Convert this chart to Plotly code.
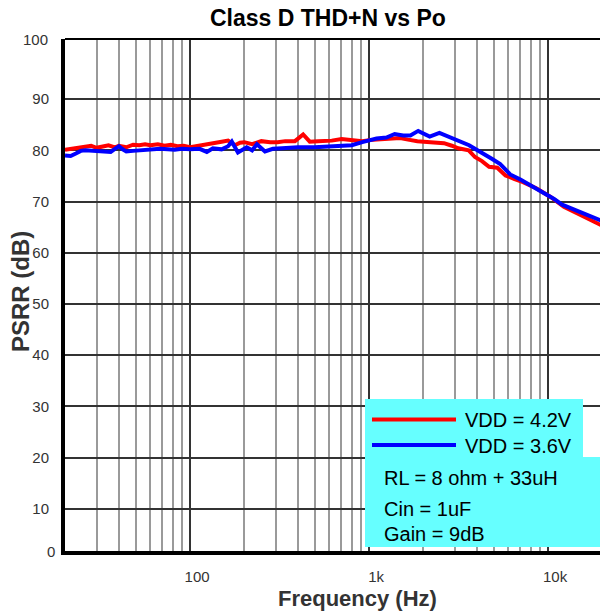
import math
import plotly.graph_objects as go

# ---- data ----
freq_42 = [20, 22, 24, 26, 28, 30, 32, 35, 38, 40, 44, 48, 52, 56, 60, 66, 72, 78, 85, 92,
           100, 110, 122, 135, 150, 163, 178, 190, 201, 222, 250, 280, 308, 340, 385, 428,
           466, 520, 618, 702, 800, 916, 1000, 1090, 1250, 1490, 1650, 1860, 2200, 2620,
           2900, 3150, 3600, 3900, 4270, 4680, 5200, 5780, 6500, 7240, 8580, 10320, 12240,
           14000, 15920, 18000, 20000]
psrr_42 = [80.1, 80.3, 80.4, 80.6, 80.9, 80.5, 80.7, 81.0, 80.6, 80.9, 80.6, 81.1, 81.0, 81.2,
           81.0, 81.2, 80.9, 81.1, 80.8, 80.9, 80.6, 80.9, 81.1, 81.4, 81.7, 81.9, 81.0, 81.5,
           81.6, 81.2, 81.8, 81.6, 81.6, 81.8, 81.8, 83.1, 81.7, 81.8, 81.9, 82.2, 82.0, 81.8,
           82.0, 82.1, 82.3, 82.4, 82.1, 81.8, 81.6, 81.4, 80.9, 80.4, 80.0, 78.7, 77.9, 76.8,
           76.6, 75.1, 74.4, 73.8, 72.6, 70.9, 69.0, 68.0, 67.0, 66.0, 65.3]

freq_36 = [20, 21.5, 23, 24.5, 26, 28, 30, 33, 36, 38, 40, 42, 44, 48, 52, 56, 62, 68, 75, 82,
           90, 100, 113, 124, 134, 150, 163, 171, 185, 207, 222, 236, 262, 290, 326, 400, 496,
           600, 702, 800, 916, 1000, 1100, 1250, 1389, 1550, 1700, 1880, 2000, 2180, 2470,
           2835, 3200, 3620, 3900, 4270, 4870, 5400, 6140, 7000, 7950, 8900, 9890, 10800,
           11970, 13800, 15920, 18000, 20000]
psrr_36 = [79.0, 78.9, 79.4, 79.9, 80.0, 79.9, 80.0, 79.8, 79.7, 80.3, 80.8, 80.2, 79.8, 79.9,
           80.0, 80.1, 80.2, 80.3, 80.2, 80.1, 80.3, 80.2, 80.3, 79.7, 80.4, 80.2, 80.8, 81.7,
           79.6, 80.6, 80.0, 81.2, 79.8, 80.3, 80.4, 80.6, 80.6, 80.8, 80.8, 81.0, 81.6, 82.0,
           82.3, 82.5, 83.2, 82.9, 82.9, 83.8, 83.3, 82.7, 83.4, 82.6, 81.9, 81.0, 80.3, 79.4,
           78.3, 77.3, 75.3, 74.3, 73.2, 72.1, 71.3, 70.5, 69.4, 68.5, 67.8, 66.9, 66.2]

x_tickvals = [100, 1000, 10000]
x_ticktext = ["100", "1k", "10k"]
x_minorvals = [30, 40, 50, 60, 70, 80, 90, 200, 300, 400, 500, 600, 700, 800, 900,
               2000, 3000, 4000, 5000, 6000, 7000, 8000, 9000]
y_tickvals = [10, 20, 30, 40, 50, 60, 70, 80, 90]

series_names = ["VDD = 4.2V", "VDD = 3.6V"]
series_colors = ["#FF0000", "#0000FF"]
note_lines = ["RL = 8 ohm + 33uH", "Cin = 1uF", "Gain = 9dB"]

FONT = "Liberation Sans, Arial, sans-serif"

W, H = 600, 615

fig = go.Figure()
fig.add_trace(go.Scatter(x=freq_42, y=psrr_42, mode="lines", name=series_names[0],
                         line=dict(color=series_colors[0], width=4)))
fig.add_trace(go.Scatter(x=freq_36, y=psrr_36, mode="lines", name=series_names[1],
                         line=dict(color=series_colors[1], width=4)))

# plot area geometry in pixels
L, R, T, B = 65, 600, 39, 551
def px(x):
    return (x - L) / (R - L)
def py(y):
    return (B - y) / (B - T)

fig.update_layout(
    width=W, height=H,
    margin=dict(l=L, r=W - R, t=T, b=H - B, autoexpand=False),
    paper_bgcolor="white", plot_bgcolor="white",
    showlegend=False,
    font=dict(family=FONT, color="#333333"),
    xaxis=dict(
        type="log",
        range=[math.log10(20), math.log10(20) + (R - L) / 179.0],
        tickmode="array", tickvals=x_tickvals, ticktext=x_ticktext,
        showgrid=True, gridcolor="#333333", gridwidth=2,
        minor=dict(tickmode="array", tickvals=x_minorvals, showgrid=True,
                   gridcolor="#9a9a9a", gridwidth=2, ticks=""),
        showline=True, linecolor="black", linewidth=4,
        ticks="", ticklabelstandoff=9, ticklabelshift=7,
        tickfont=dict(size=15, color="#333333", family=FONT),
        zeroline=False,
    ),
    yaxis=dict(
        range=[1.75, 101.75],
        tickmode="array", tickvals=y_tickvals,
        showgrid=True, gridcolor="#333333", gridwidth=2,
        showline=True, linecolor="black", linewidth=4,
        ticks="", ticklabelstandoff=9,
        tickfont=dict(size=15, color="#333333", family=FONT),
        zeroline=False,
    ),
)

shapes = []
shapes.append(dict(type="line", xref="paper", yref="paper", x0=0, x1=1, y0=1, y1=1,
                   line=dict(color="black", width=2), layer="above"))
shapes.append(dict(type="rect", xref="paper", yref="paper",
                   x0=px(365), x1=px(583), y0=py(457), y1=py(399),
                   fillcolor="#66FFFF", line=dict(width=0), layer="above"))
shapes.append(dict(type="rect", xref="paper", yref="paper",
                   x0=px(365), x1=px(600), y0=py(547), y1=py(457),
                   fillcolor="#66FFFF", line=dict(width=0), layer="above"))
for i, c in enumerate(series_colors):
    yy = py(419.5 + 25.5 * i)
    shapes.append(dict(type="line", xref="paper", yref="paper",
                       x0=px(372), x1=px(456), y0=yy, y1=yy,
                       line=dict(color=c, width=4), layer="above"))
fig.update_layout(shapes=shapes)

ann = []
ann.append(dict(text="<b>Class D THD+N vs Po</b>", xref="paper", yref="paper",
                x=px(328), y=py(18), xanchor="center", yanchor="middle", showarrow=False,
                font=dict(size=23, color="black", family=FONT)))
ann.append(dict(text="<b>PSRR (dB)</b>", xref="paper", yref="paper",
                x=px(20), y=py(292), xanchor="center", yanchor="middle", showarrow=False,
                textangle=-90, font=dict(size=24, color="#333333", family=FONT)))
ann.append(dict(text="<b>Frequency (Hz)</b>", xref="paper", yref="paper",
                x=px(357), y=py(598), xanchor="center", yanchor="middle", showarrow=False,
                font=dict(size=22, color="#333333", family=FONT)))
ann.append(dict(text="100", xref="paper", yref="paper", x=px(50), y=1,
                xanchor="right", yanchor="middle", showarrow=False,
                font=dict(size=15, color="#333333", family=FONT)))
ann.append(dict(text="0", xref="paper", yref="paper", x=px(57), y=0,
                xanchor="right", yanchor="middle", showarrow=False,
                font=dict(size=15, color="#333333", family=FONT)))
for i, name in enumerate(series_names):
    ann.append(dict(text=name, xref="paper", yref="paper", x=px(463), y=py(420 + 25.5 * i),
                    xanchor="left", yanchor="middle", showarrow=False,
                    font=dict(size=20, color="black", family=FONT)))
for line, yc in zip(note_lines, [477.5, 508.5, 534]):
    ann.append(dict(text=line, xref="paper", yref="paper", x=px(382), y=py(yc),
                    xanchor="left", yanchor="middle", showarrow=False,
                    font=dict(size=20, color="black", family=FONT)))
fig.update_layout(annotations=ann)

# remove the default 8px page margin so the 600x615 figure fills the window
fig.write_html("out.html",
               config={"displayModeBar": False, "staticPlot": True},
               post_script="document.body.style.margin='0';"
                           "document.body.style.overflow='hidden';"
                           "document.documentElement.style.overflow='hidden';")
